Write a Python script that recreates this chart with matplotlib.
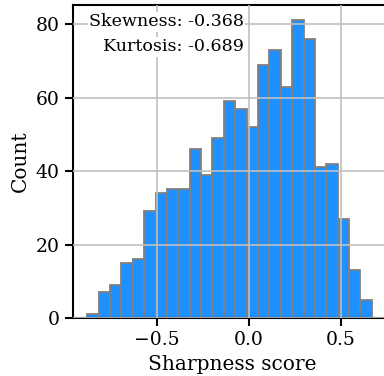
import numpy as np
import matplotlib
matplotlib.use("Agg")
import matplotlib.pyplot as plt

counts = [1, 7, 9, 15, 16, 29, 34, 35, 35, 46, 39, 49, 59, 57, 52, 69, 73, 63, 81, 76, 41, 42, 27, 13, 5]
bin_start, bin_end = -0.879, 0.667
skewness = -0.368
kurtosis = -0.689

plt.rcParams['font.family'] = ['DejaVu Serif']
fig = plt.figure(figsize=(3.84, 3.76), dpi=100)
ax = fig.add_axes([73/384, 58/376, 319/384, 313/376])

edges = np.linspace(bin_start, bin_end, len(counts) + 1)
ax.bar(edges[:-1], counts, width=np.diff(edges), align='edge',
       color='#1E90FF', edgecolor='#808080', linewidth=1.3)

ax.set_xlim(-0.957, 0.777)
ax.set_ylim(0, 85.2)
ax.set_xticks([-0.5, 0.0, 0.5])
ax.set_yticks([0, 20, 40, 60, 80])
ax.grid(True, color='#c0c0c0', linewidth=1.2)
ax.set_axisbelow(False)
for s in ax.spines.values():
    s.set_linewidth(1.5)
ax.tick_params(length=6, width=1.5, labelsize=13.5)
ax.set_xlabel('Sharpness score', fontsize=14.5)
ax.set_ylabel('Count', fontsize=14.5)

bb = dict(facecolor='white', edgecolor='none', pad=1)
ax.text(0.536, 0.946, f'Skewness: {skewness}', transform=ax.transAxes,
        ha='right', va='center', fontsize=12.6, bbox=bb, zorder=5)
ax.text(0.536, 0.866, f'Kurtosis: {kurtosis}', transform=ax.transAxes,
        ha='right', va='center', fontsize=12.6, bbox=bb, zorder=5)

fig.savefig('out.png', dpi=100)
